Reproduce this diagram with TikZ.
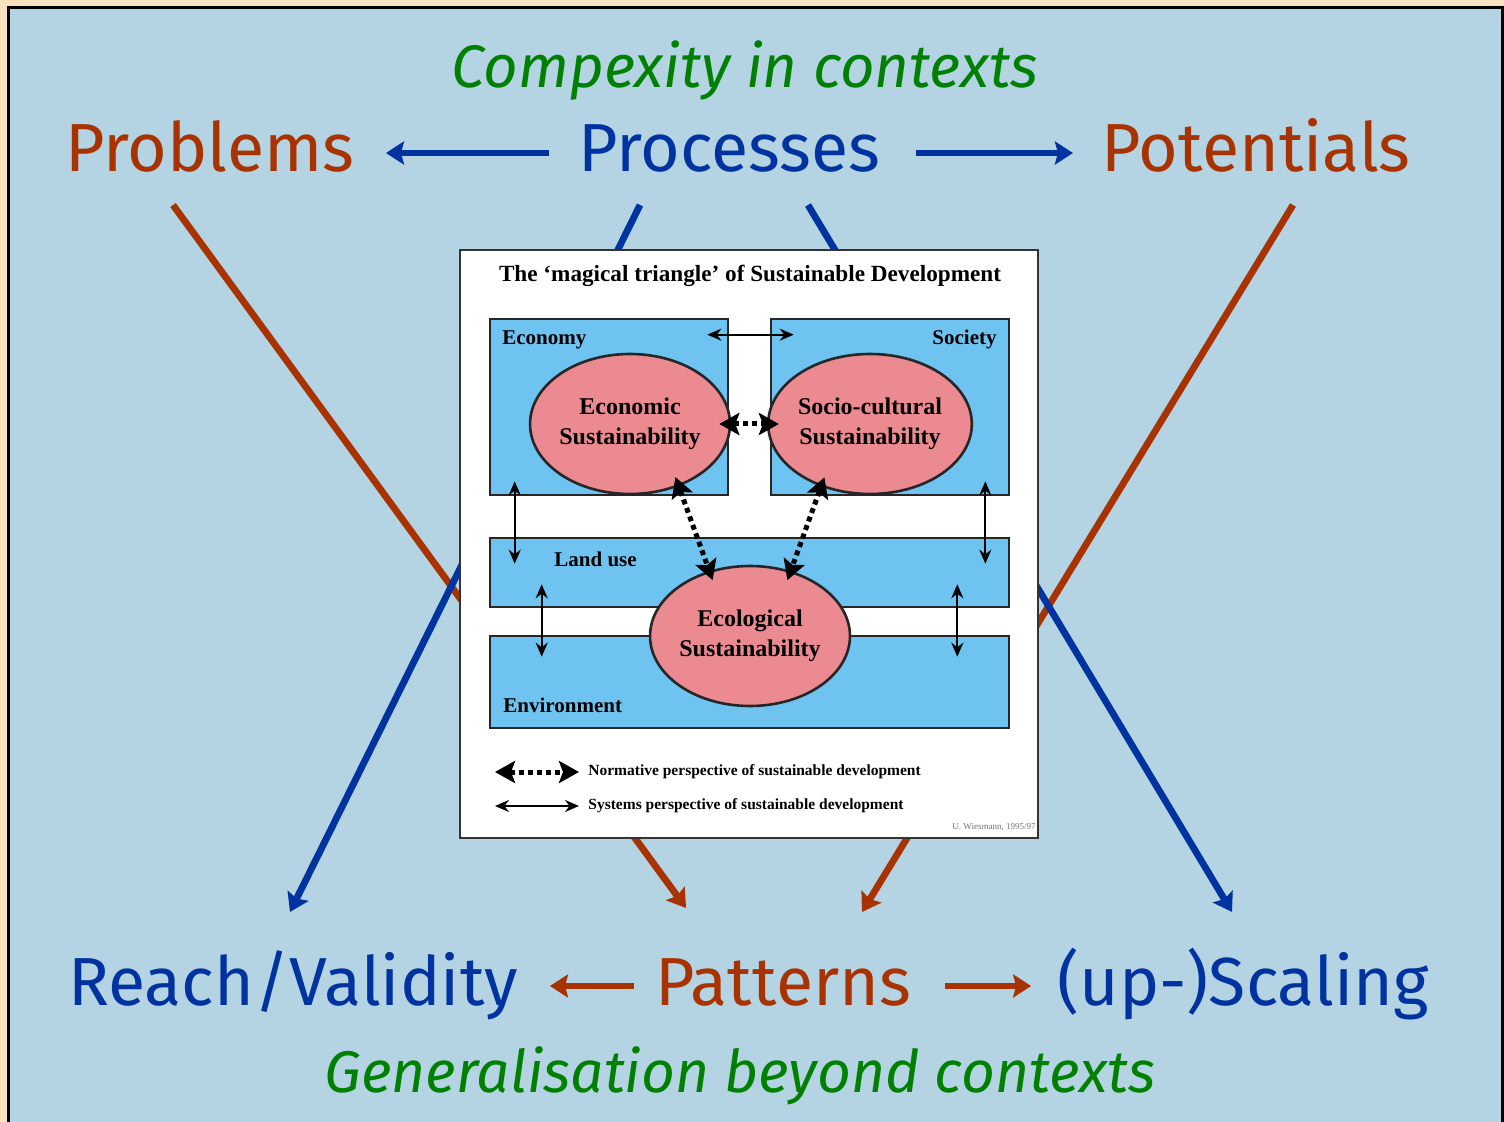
\documentclass[tikz,border=0pt]{standalone}
\usepackage{fontspec}
\setmainfont{Liberation Serif}
\newfontfamily\labelfont{Fira Sans}
\usetikzlibrary{arrows.meta, shapes.geometric}

\definecolor{frameback}{HTML}{FBE3C0}
\definecolor{bgblue}{HTML}{B4D4E4}
\definecolor{procblue}{HTML}{0033A0}
\definecolor{probred}{HTML}{A83300}
\definecolor{ctxgreen}{HTML}{008000}
\definecolor{boxblue}{HTML}{6EC3F0}
\definecolor{ellpink}{HTML}{EC8A92}

\begin{document}
\begin{tikzpicture}[x=0.5pt, y=-0.5pt,
    bigword/.style={font=\labelfont\fontsize{34}{40}\selectfont, inner sep=0pt,
        text height=25pt, text depth=6pt, anchor=base},
    context/.style={font=\labelfont\itshape\fontsize{30}{36}\selectfont,
        text=ctxgreen, inner sep=0pt, anchor=base},
    flow/.style={line width=3.4pt, -{Stealth[length=9pt, width=11.5pt, inset=1.5pt]}},
    area/.style={draw=black!85, line width=1.3pt, fill=boxblue, inner sep=0pt},
    pillar/.style={ellipse, draw=black!85, line width=1.3pt, fill=ellpink,
        inner sep=0pt, minimum width=97.5pt, minimum height=70pt, align=center,
        font=\bfseries\fontsize{12}{15}\selectfont},
    arealabel/.style={font=\bfseries\fontsize{10.5}{12}\selectfont, inner sep=0pt},
    systems/.style={line width=1.1pt,
        {Stealth[length=7pt, width=6pt]}-{Stealth[length=7pt, width=6pt]}},
    normative/.style={line width=2.5pt, dash pattern=on 2.5pt off 2pt,
        {Stealth[length=10pt, width=11pt, inset=2pt]}-{Stealth[length=10pt, width=11pt, inset=2pt]}},
    legendtext/.style={font=\bfseries\fontsize{7.75}{9}\selectfont, inner sep=0pt,
        anchor=west}]

    \useasboundingbox (0,0) rectangle (1504,1122);
    \fill[frameback] (0,0) rectangle (1504,1122);
    \draw[line width=1.5pt, fill=bgblue] (8,8) rectangle (1502,1140);

    % key words
    \node[bigword, text=probred] (problems) at (210,172) {Problems};
    \node[bigword, text=procblue] (processes) at (729,172) {Processes};
    \node[bigword, text=probred] (potentials) at (1256,172) {Potentials};
    \node[bigword, text=procblue] (reach) at (293,1005) {Reach/Validity};
    \node[bigword, text=probred] (patterns) at (783,1005) {Patterns};
    \node[bigword, text=procblue] (scaling) at (1243,1005) {(up-)Scaling};
    \node[context] (complexity) at (745,88) {Compexity in contexts};
    \node[context, font=\labelfont\itshape\fontsize{29.4}{36}\selectfont]
        (generalise) at (740,1092) {Generalisation beyond contexts};

    \draw[flow, procblue, shorten <=14.5pt, shorten >=15.5pt] (processes) -- (problems);
    \draw[flow, procblue, shorten <=18pt, shorten >=14pt] (processes) -- (potentials);
    \draw[flow, probred, shorten <=10.5pt, shorten >=16pt] (patterns) -- (reach);
    \draw[flow, probred, shorten <=17pt, shorten >=13pt] (patterns) -- (scaling);

    % long diagonals, behind the picture
    \coordinate (probfoot) at (173,205);
    \coordinate (potfoot) at (1293,205);
    \coordinate (procleft) at (640,205);
    \coordinate (procright) at (808,205);
    \coordinate (patleft) at (686,908);
    \coordinate (patright) at (862,912);
    \coordinate (reachtop) at (290,912);
    \coordinate (scaletop) at (1232,912);
    \draw[flow, probred] (probfoot) -- (patleft);
    \draw[flow, probred] (potfoot) -- (patright);
    \draw[flow, procblue] (procleft) -- (reachtop);
    \draw[flow, procblue] (procright) -- (scaletop);

    % the magical triangle
    \node[draw=black!80, line width=1pt, fill=white, inner sep=0pt,
        minimum width=289pt, minimum height=294pt] (panel) at (749,544) {};
    \node[arealabel, font=\bfseries\fontsize{11.6}{13}\selectfont] (title) at (750,276)
        {The ‘magical triangle’ of Sustainable Development};

    \node[area, minimum width=119pt, minimum height=88pt] (economy) at (609,407) {};
    \node[area, minimum width=119pt, minimum height=88pt] (society) at (890,407) {};
    \node[area, minimum width=259.5pt, minimum height=34.5pt] (landuse) at (749.5,572.5) {};
    \node[area, minimum width=259.5pt, minimum height=46pt] (environment) at (749.5,682) {};

    \node[arealabel, anchor=base west] (econlabel) at (502,345) {Economy};
    \node[arealabel, anchor=base east] (soclabel) at (997,345) {Society};
    \node[arealabel, anchor=base west] (landlabel) at (554,567) {Land use};
    \node[arealabel, anchor=base west] (envlabel) at (503,712) {Environment};

    \node[pillar] (econ) at (630,424) {Economic\\Sustainability};
    \node[pillar] (socio) at (870,424) {Socio-cultural\\Sustainability};
    \node[pillar] (ecol) at (750,636) {Ecological\\Sustainability};

    \draw[systems] ([xshift=-11pt,yshift=-8.5pt]economy.north east) -- ([xshift=12pt,yshift=-8.5pt]society.north west);
    \draw[systems] ([xshift=13pt,yshift=7.5pt]economy.south west) -- ([xshift=13pt,yshift=-13.5pt]landuse.north west);
    \draw[systems] ([xshift=-12.5pt,yshift=7.5pt]society.south east) -- ([xshift=-12.5pt,yshift=-13.5pt]landuse.north east);
    \draw[systems] ([xshift=26.5pt,yshift=12pt]landuse.south west) -- ([xshift=26.5pt,yshift=-11pt]environment.north west);
    \draw[systems] ([xshift=-26.5pt,yshift=12pt]landuse.south east) -- ([xshift=-26.5pt,yshift=-11pt]environment.north east);

    \draw[normative, shorten <=-6pt, shorten >=-6pt] (econ.east) -- (socio.west);
    \draw[normative, shorten <=-5pt, shorten >=-5pt] (econ.-52) -- (ecol.122);
    \draw[normative, shorten <=-5pt, shorten >=-5pt] (socio.-128) -- (ecol.58);

    % legend
    \node[legendtext] (normtext) at (588,772) {Normative perspective of sustainable development};
    \node[legendtext] (systext) at (588,806) {Systems perspective of sustainable development};
    \draw[normative] ([xshift=-46.5pt]normtext.west) -- ([xshift=-4.5pt]normtext.west);
    \draw[systems] ([xshift=-46.5pt]systext.west) -- ([xshift=-4.5pt]systext.west);
    \node[font=\fontsize{4.5}{5}\selectfont, text=black!55, anchor=base east,
        inner sep=0pt] (credit) at (1036,829) {U. Wiesmann, 1995/97};
\end{tikzpicture}
\end{document}
